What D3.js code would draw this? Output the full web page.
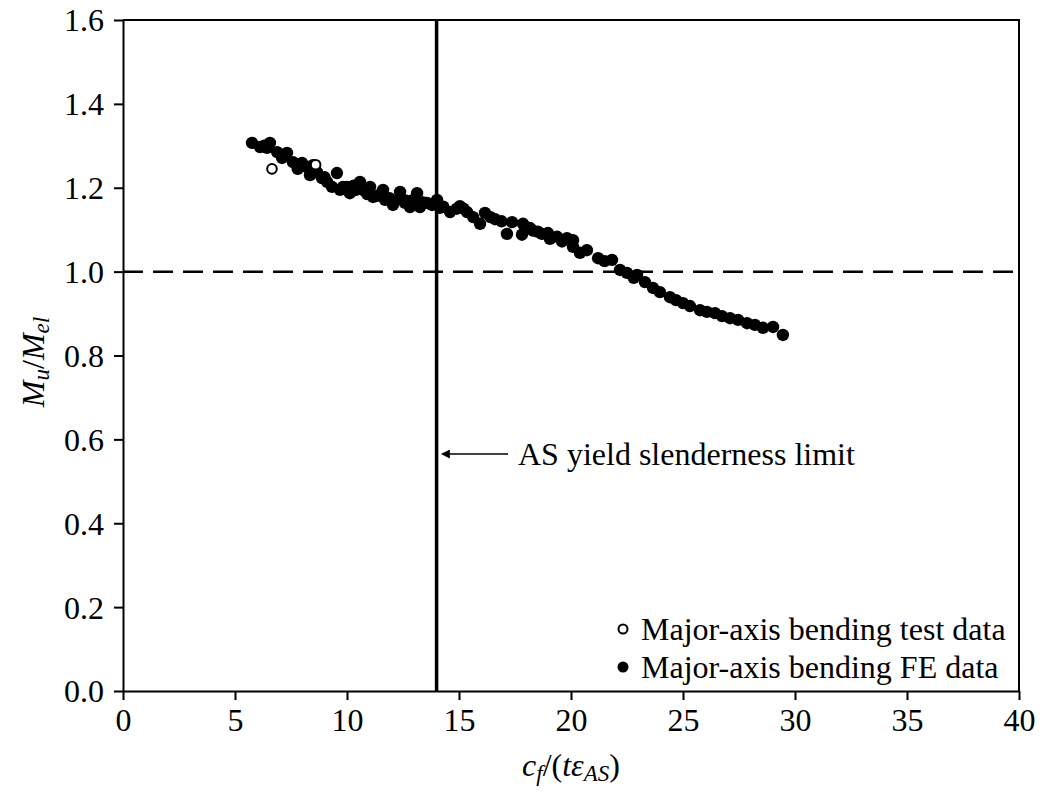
<!DOCTYPE html>
<html>
<head>
<meta charset="utf-8">
<script src="https://cdn.jsdelivr.net/npm/d3@7"></script>
<style>
  body { margin: 0; background: #fff; }
  text { font-family: "Liberation Serif", "Times New Roman", serif; fill: #000; }
</style>
</head>
<body>
<svg id="chart" width="1041" height="796"></svg>
<script>
// ---------------------------------------------------------------------------
// Data

const xTicks = [0, 5, 10, 15, 20, 25, 30, 35, 40];
const yTicks = [0.0, 0.2, 0.4, 0.6, 0.8, 1.0, 1.2, 1.4, 1.6];

// Major-axis bending test data (open markers)
const testX = [6.65, 8.6];
const testY = [1.245, 1.255];

// Major-axis bending FE data (filled markers)
const feX = [5.76, 6.12, 6.56, 6.43, 6.88, 7.32, 7.10, 7.59, 7.99, 8.48, 8.21, 8.66, 8.35, 8.88,
  9.11, 9.55, 9.33, 9.69, 10.0, 9.82, 10.13, 10.58, 10.71, 11.03, 11.16, 11.61, 11.70, 12.05,
  12.37, 12.59, 12.81, 13.13, 13.26, 13.57, 13.79, 14.02, 14.15, 14.6, 15.04, 15.36, 15.63,
  15.94, 16.16, 16.61, 17.14, 17.37, 17.81, 17.86, 18.17, 18.53, 18.97, 19.06, 19.38, 19.82,
  20.09, 20.09, 20.71, 21.21, 21.83, 22.19, 22.5, 22.95, 23.3, 23.66, 23.97, 24.42, 24.69,
  25.0, 25.31, 25.76, 26.07, 26.43, 26.74, 27.10, 27.46, 27.86, 28.21, 28.57, 29.02, 29.46,
  10.9, 11.3, 12.2, 12.9, 9.0, 7.8, 6.3, 14.9, 16.9, 18.7, 10.4, 11.9, 13.4,
  10.3, 11.5, 12.6, 13.1, 14.3, 15.2, 16.4, 18.3, 19.6, 20.4, 21.5, 22.8];
const feY = [1.307, 1.297, 1.307, 1.295, 1.285, 1.283, 1.271, 1.261, 1.259, 1.254, 1.249, 1.237,
  1.230, 1.223, 1.214, 1.235, 1.202, 1.195, 1.202, 1.202, 1.187, 1.214, 1.195, 1.202, 1.178,
  1.195, 1.171, 1.159, 1.190, 1.164, 1.154, 1.187, 1.154, 1.164, 1.159, 1.171, 1.152, 1.142,
  1.156, 1.142, 1.130, 1.114, 1.140, 1.125, 1.090, 1.118, 1.088, 1.114, 1.104, 1.095, 1.092,
  1.078, 1.083, 1.080, 1.075, 1.059, 1.051, 1.032, 1.028, 1.004, 0.997, 0.992, 0.975, 0.961,
  0.951, 0.939, 0.932, 0.925, 0.918, 0.908, 0.904, 0.901, 0.894, 0.889, 0.885, 0.877, 0.873,
  0.866, 0.868, 0.849,
  1.185, 1.180, 1.170, 1.170, 1.225, 1.245, 1.300, 1.150, 1.120, 1.090, 1.195, 1.175, 1.165,
  1.205, 1.185, 1.170, 1.165, 1.155, 1.150, 1.130, 1.098, 1.072, 1.045, 1.025, 0.985];

const limitX = 14;
const refY = 1.0;

// ---------------------------------------------------------------------------
// Layout

const svg = d3.select('#chart');
const plotLeft = 123, plotRight = 1019, plotTop = 20, plotBottom = 691;
const fontSize = 32;

const x = d3.scaleLinear().domain([0, 40]).range([plotLeft, plotRight]);
const y = d3.scaleLinear().domain([0, 1.6]).range([plotBottom, plotTop]);

// frame (top and right)
svg.append('path')
  .attr('d', `M${plotLeft},${plotTop}H${plotRight}V${plotBottom}`)
  .attr('fill', 'none').attr('stroke', '#000').attr('stroke-width', 2);

// axes
const xAxis = svg.append('g')
  .attr('transform', `translate(0,${plotBottom})`)
  .call(d3.axisBottom(x).tickValues(xTicks).tickSize(9).tickSizeOuter(0).tickPadding(8));
const yAxis = svg.append('g')
  .attr('transform', `translate(${plotLeft},0)`)
  .call(d3.axisLeft(y).tickValues(yTicks).tickFormat(d3.format('.1f')).tickSize(9).tickSizeOuter(0).tickPadding(10));

[xAxis, yAxis].forEach(function(a) {
  a.selectAll('path, line').attr('stroke', '#000').attr('stroke-width', 2);
  a.selectAll('text').style('font-family', '"Liberation Serif", serif')
    .style('font-size', fontSize + 'px').attr('fill', '#000');
});
yAxis.selectAll('text').attr('dy', '0.34em');
xAxis.selectAll('text').attr('dy', '0.71em');

// reference lines
svg.append('line')
  .attr('x1', x(0)).attr('x2', x(40)).attr('y1', y(refY)).attr('y2', y(refY))
  .attr('stroke', '#000').attr('stroke-width', 2.5).attr('stroke-dasharray', '20,10');
svg.append('line')
  .attr('x1', x(limitX)).attr('x2', x(limitX)).attr('y1', y(1.6)).attr('y2', y(0))
  .attr('stroke', '#000').attr('stroke-width', 3.5);

// data
svg.append('g').selectAll('circle')
  .data(d3.zip(feX, feY))
  .enter().append('circle')
  .attr('cx', d => x(d[0])).attr('cy', d => y(d[1])).attr('r', 6.2)
  .attr('fill', '#000');

svg.append('g').selectAll('circle')
  .data(d3.zip(testX, testY))
  .enter().append('circle')
  .attr('cx', d => x(d[0])).attr('cy', d => y(d[1])).attr('r', 4.8)
  .attr('fill', '#fff').attr('stroke', '#000').attr('stroke-width', 2);

// annotation arrow
svg.append('defs').append('marker')
  .attr('id', 'arrow').attr('viewBox', '0 0 10 10').attr('refX', 1).attr('refY', 5)
  .attr('markerWidth', 14).attr('markerHeight', 9).attr('markerUnits', 'userSpaceOnUse')
  .attr('orient', 'auto-start-reverse')
  .append('path').attr('d', 'M0,0L10,5L0,10z').attr('fill', '#000');
svg.append('line')
  .attr('x1', 508).attr('x2', 449).attr('y1', 454).attr('y2', 454)
  .attr('stroke', '#000').attr('stroke-width', 1.5)
  .attr('marker-end', 'url(#arrow)');
svg.append('text')
  .attr('x', 518).attr('y', 454).attr('dy', '0.35em')
  .style('font-size', fontSize + 'px')
  .text('AS yield slenderness limit');

// legend
const legend = svg.append('g');
legend.append('circle').attr('cx', 623).attr('cy', 629).attr('r', 4.5)
  .attr('fill', '#fff').attr('stroke', '#000').attr('stroke-width', 2);
legend.append('text').attr('x', 641).attr('y', 629).attr('dy', '0.35em')
  .style('font-size', fontSize + 'px').text('Major-axis bending test data');
legend.append('circle').attr('cx', 623).attr('cy', 667).attr('r', 5.5).attr('fill', '#000');
legend.append('text').attr('x', 641).attr('y', 667).attr('dy', '0.35em')
  .style('font-size', fontSize + 'px').text('Major-axis bending FE data');

// axis titles
const xt = svg.append('text')
  .attr('x', x(20)).attr('y', 776).attr('text-anchor', 'middle')
  .style('font-size', fontSize + 'px').style('font-style', 'italic');
xt.append('tspan').text('c');
xt.append('tspan').attr('baseline-shift', '-22%').style('font-size', '23px').text('f');
xt.append('tspan').style('font-style', 'normal').text('/(');
xt.append('tspan').text('tε');
xt.append('tspan').attr('baseline-shift', '-22%').style('font-size', '23px').text('AS');
xt.append('tspan').style('font-style', 'normal').text(')');

const yt = svg.append('text')
  .attr('transform', 'translate(44,362) rotate(-90)').attr('text-anchor', 'middle')
  .style('font-size', fontSize + 'px').style('font-style', 'italic');
yt.append('tspan').text('M');
yt.append('tspan').attr('baseline-shift', '-22%').style('font-size', '23px').text('u');
yt.append('tspan').style('font-style', 'normal').text('/');
yt.append('tspan').text('M');
yt.append('tspan').attr('baseline-shift', '-22%').style('font-size', '23px').text('el');
</script>
</body>
</html>
